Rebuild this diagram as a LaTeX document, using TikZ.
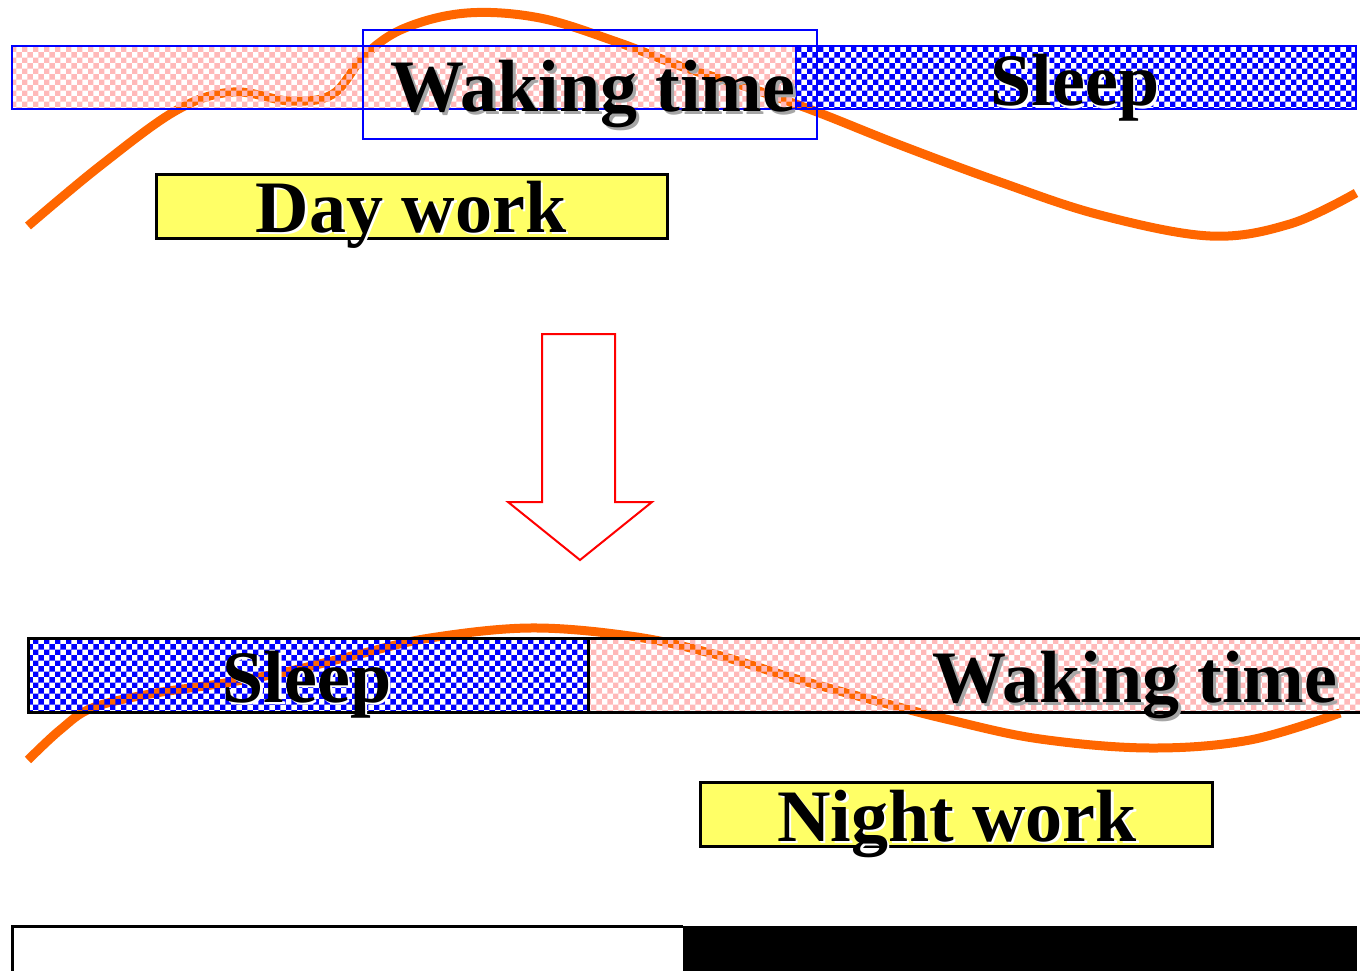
\documentclass[tikz,border=0pt]{standalone}
\usepackage{fontspec}
\setmainfont{Liberation Serif}
\usetikzlibrary{patterns}
\definecolor{curveorange}{RGB}{255,102,0}
\definecolor{barblue}{RGB}{0,0,255}
\definecolor{pinkck}{RGB}{255,185,185}
\definecolor{boxyellow}{RGB}{255,255,102}
\tikzset{
  curve/.style={curveorange, line width=9pt},
  pinkbar/.style={pattern=checkerboard, pattern color=pinkck},
  bluebar/.style={pattern=checkerboard, pattern color=barblue},
  blueframe/.style={draw=barblue, line width=2.5pt},
  blackframe/.style={draw=black, line width=3pt},
  workbox/.style={fill=boxyellow, draw=black, line width=3pt},
  lbl/.style={font=\fontsize{74}{80}\selectfont\bfseries, inner sep=0pt, anchor=base, text=black},
  wshadow/.style={lbl, text=white, xshift=2.5pt, yshift=-2.5pt},
  gshadow/.style={lbl, text=black!35, xshift=3pt, yshift=-3pt},
  bigarrow/.style={draw=red, line width=2pt, fill=white, line join=miter},
}
\begin{document}
\begin{tikzpicture}[x=1pt, y=-1pt]
\useasboundingbox (0,0) rectangle (1360,971);

% ---------- top: day work ----------
\draw[curve] plot[smooth, tension=0.6] coordinates {
  (28,226) (100,166) (177,110) (233,92) (290,101) (333,94) (365,55)
  (405,28) (467,13) (540,18) (617,42) (683,67) (750,88) (817,112)
  (900,145) (1000,182) (1100,215) (1210,236) (1290,224) (1356,193)};

\path[pinkbar] (12,46) rectangle (796,109);
\path[bluebar] (796,46) rectangle (1356,109);
\draw[blueframe] (12,46) rectangle (1356,109);
\draw[blueframe] (796,46) -- (796,109);
\draw[blueframe] (363,30) rectangle (817,139);

\node[gshadow] at (593,112) {Waking time};
\node[lbl] (wake1) at (593,112) {Waking time};
\node[wshadow] at (1075,106) {Sleep};
\node[lbl] (sleep1) at (1075,106) {Sleep};

\node[workbox, minimum width=511pt, minimum height=64pt, inner sep=0pt] (daybox) at (411.5,206) {};
\node[wshadow] at (411,232) {Day work};
\node[lbl] (day) at (411,232) {Day work};

% ---------- arrow ----------
\draw[bigarrow] (542,334) -- (615,334) -- (615,502) -- (652,502) -- (580,560)
  -- (508,502) -- (542,502) -- cycle;

% ---------- bottom: night work ----------
\draw[curve] plot[smooth, tension=0.6] coordinates {
  (28,760) (60,730) (92,708) (150,694) (225,683) (290,671) (360,654)
  (430,638) (530,628) (630,636) (710,653) (800,680) (880,702)
  (950,720) (1040,739) (1150,748) (1250,740) (1340,713)};

\path[bluebar] (28,638) rectangle (588,712);
\path[pinkbar] (588,638) rectangle (1362,712);
\draw[blackframe] (28,638) rectangle (1364,712);
\draw[blackframe] (588,638) -- (588,712);

\node[wshadow] at (307,702) {Sleep};
\node[lbl] (sleep2) at (307,702) {Sleep};
\node[gshadow] at (1135,702) {Waking time};
\node[lbl] (wake2) at (1135,702) {Waking time};

\node[workbox, minimum width=512pt, minimum height=64pt, inner sep=0pt] (nightbox) at (956,814) {};
\node[wshadow] at (957,841) {Night work};
\node[lbl] (night) at (957,841) {Night work};

% ---------- bottom day/night bar ----------
\fill[black] (683,926) rectangle (1357,975);
\draw[blackframe] (12,978) -- (12,926) -- (683,926);
\end{tikzpicture}
\end{document}
